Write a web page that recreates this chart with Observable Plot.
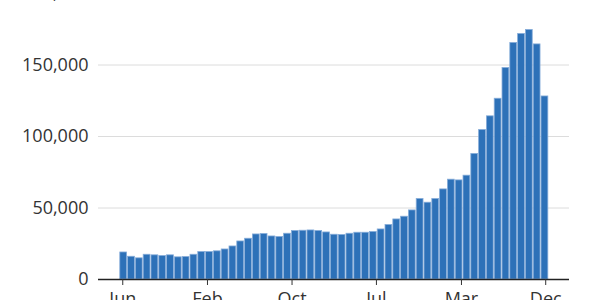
<!DOCTYPE html>
<html>
<head>
<meta charset="utf-8">
<script src="https://cdn.jsdelivr.net/npm/d3@7"></script>
<script src="https://cdn.jsdelivr.net/npm/@observablehq/plot@0.6"></script>
<style>
  html, body { margin: 0; padding: 0; background: white; overflow: hidden; }
  #chart svg { display: block; margin-top: -37px; }
</style>
</head>
<body>
<div id="chart"></div>
<script>
// One value per period (bar)
const values = [
  18900, 15900, 14800, 17300, 16900, 16400, 16900, 15500, 15700, 17300,
  19200, 19200, 19700, 21000, 23100, 26600, 28500, 31500, 31800, 30100,
  29700, 32000, 33900, 34100, 34300, 33900, 32900, 31300, 31100, 32000,
  32700, 32700, 33200, 35000, 38100, 42000, 43900, 48300, 56300, 53700,
  56300, 63000, 69800, 69300, 72600, 87800, 104500, 114100, 126400, 147900,
  165400, 171700, 174500, 164400, 128000
];
const periods = values.map((d, i) => i);
// x-axis tick positions (in period units) and their labels
const tickPositions = [0.38, 11.24, 22.08, 32.9, 43.8, 54.6];
const tickLabels = ["Jun", "Feb", "Oct", "Jul", "Mar", "Dec"];
const yTicks = [0, 50000, 100000, 150000, 200000];

const data = periods.map((p, i) => ({p, v: values[i]}));

const chart = Plot.plot({
  width: 600,
  height: 340,
  marginTop: 30,
  marginBottom: 24,
  marginLeft: 98,
  marginRight: 31,
  style: {fontFamily: "'Open Sans', sans-serif", fontSize: "18px", color: "#333", background: "white", overflow: "visible"},
  x: {type: "linear", domain: [-2.73, 57.65]},
  y: {domain: [0, 200000]},
  marks: [
    Plot.gridY(yTicks.slice(1), {stroke: "#dcdcdc", strokeOpacity: 1}),
    Plot.rectY(data, {
      x1: d => d.p, x2: d => d.p + 1, y: "v",
      fill: "#2d71b8", stroke: "#86acd9", strokeWidth: 0.8,
      insetLeft: 0.5, insetRight: 0.5
    }),
    Plot.ruleY([0], {stroke: "#222", strokeWidth: 1.5}),
    Plot.axisY(yTicks, {tickSize: 0, tickPadding: 10, tickFormat: d3.format(","), label: null, fill: "#333"}),
    Plot.axisX(tickPositions, {
      tickSize: 6, tickPadding: 7, label: null, stroke: "#333", fill: "#333",
      tickFormat: d => tickLabels[tickPositions.indexOf(d)]
    })
  ]
});
document.getElementById("chart").append(chart);
</script>
</body>
</html>
